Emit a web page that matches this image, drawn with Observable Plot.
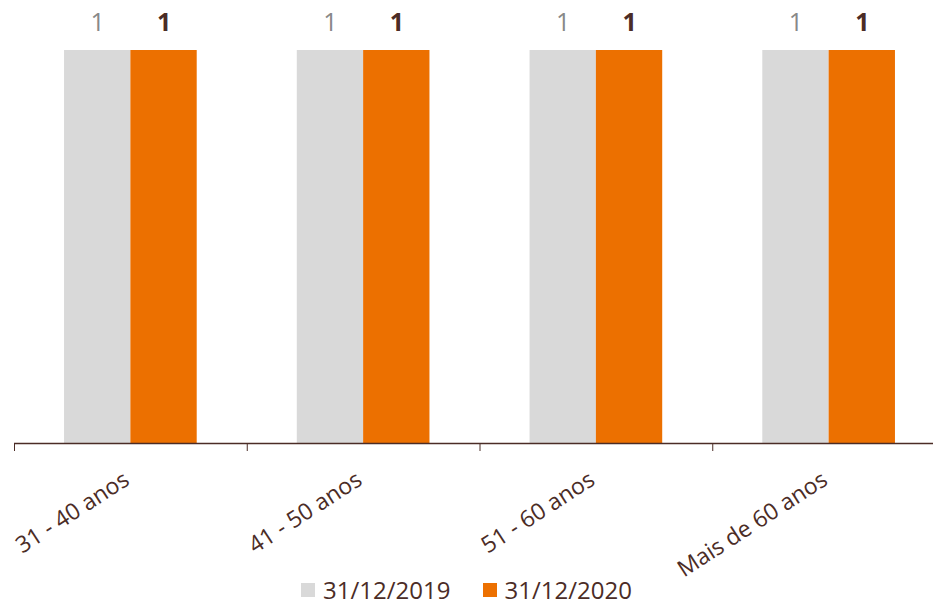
<!DOCTYPE html>
<html>
<head>
<meta charset="utf-8">
<script src="https://cdn.jsdelivr.net/npm/d3@7"></script>
<script src="https://cdn.jsdelivr.net/npm/@observablehq/plot@0.6"></script>
<style>
  body { margin: 0; background: #fff; overflow: hidden; font-family: "Open Sans", sans-serif; }
  #chart svg { overflow: visible; }
  #legend { display: flex; justify-content: center; align-items: center; gap: 32px; height: 33px; font-size: 24px; line-height: 33px; color: #4b2c26; }
  .item { display: flex; align-items: center; gap: 8px; }
  .sw { width: 14px; height: 14px; display: inline-block; }
</style>
</head>
<body>
<div id="chart"></div>
<div id="legend"></div>
<script>
const categories = ["31 - 40 anos", "41 - 50 anos", "51 - 60 anos", "Mais de 60 anos"];
const seriesNames = ["31/12/2019", "31/12/2020"];
const values2019 = [1, 1, 1, 1];
const values2020 = [1, 1, 1, 1];
const colors = ["#d9d9d9", "#ec7000"];
const labelColors = ["#888888", "#4b2c26"];
const textColor = "#4b2c26";

const rows = [];
categories.forEach((c, i) => {
  rows.push({cat: c, i, series: seriesNames[0], value: values2019[i], k: 0});
  rows.push({cat: c, i, series: seriesNames[1], value: values2020[i], k: 1});
});
const catRows = categories.map((c, i) => ({cat: c, i}));

// bar layout within each category slot (fraction of slot)
const pad = 0.215, half = 0.285;
const bx1 = d => d.i + pad + d.k * half;
const bx2 = d => d.i + pad + (d.k + 1) * half;
const bxm = d => d.i + pad + (d.k + 0.5) * half;

const chart = Plot.plot({
  width: 933,
  height: 573,
  marginTop: 50,
  marginBottom: 130,
  marginLeft: 14,
  marginRight: 0,
  style: {fontFamily: "Open Sans, sans-serif", color: textColor, background: "transparent"},
  x: {domain: [0, categories.length], range: [14, 945], ticks: d3.range(categories.length + 1), tickFormat: () => "", tickSize: 8, label: null},
  y: {domain: [0, 1], axis: null},
  color: {domain: seriesNames, range: colors},
  marks: [
    Plot.rectY(rows, {x1: bx1, x2: bx2, y1: 0, y2: "value", fill: "series"}),
    Plot.text(rows.filter(d => d.k === 0), {x: bxm, y: "value", text: d => String(d.value), dy: -28,
      fill: labelColors[0], fontSize: 25}),
    Plot.text(rows.filter(d => d.k === 1), {x: bxm, y: "value", text: d => String(d.value), dy: -28,
      fill: labelColors[1], fontSize: 25, fontWeight: "bold"}),
    Plot.ruleY([0], {stroke: textColor, strokeWidth: 1.5}),
    Plot.text(catRows, {x: d => d.i + 0.5, text: "cat", frameAnchor: "bottom", dy: 40, rotate: -33,
      textAnchor: "end", fill: textColor, fontSize: 23})
  ]
});
document.getElementById("chart").appendChild(chart);

const legend = document.getElementById("legend");
seriesNames.forEach((s, k) => {
  const it = document.createElement("div");
  it.className = "item";
  it.innerHTML = `<span class="sw" style="background:${colors[k]}"></span><span>${s}</span>`;
  legend.appendChild(it);
});
</script>
</body>
</html>
